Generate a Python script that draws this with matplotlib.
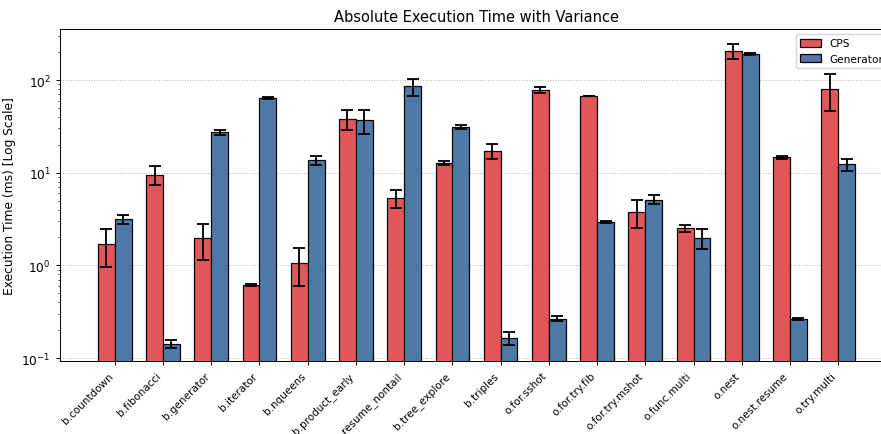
import numpy as np
import matplotlib
matplotlib.use("Agg")
import matplotlib.pyplot as plt

categories = ["b.countdown", "b.fibonacci", "b.generator", "b.iterator", "b.nqueens",
              "b.product_early", "b.resume_nontail", "b.tree_explore", "b.triples",
              "o.for.sshot", "o.for.try.fib", "o.for.try.mshot", "o.func.multi",
              "o.nest", "o.nest.resume", "o.try.multi"]
cps_mean = [1.72, 9.56, 1.98, 0.614, 1.07, 37.9, 5.30, 12.8, 17.3, 78.0, 67.1, 3.78, 2.54, 206, 14.6, 80.7]
cps_err = [0.77, 2.2, 0.83, 0.01, 0.47, 9.0, 1.17, 0.55, 3.2, 6.0, 0.5, 1.24, 0.22, 36, 0.7, 34]
gen_mean = [3.14, 0.1425, 27.2, 63.9, 13.6, 36.7, 85.5, 31.4, 0.164, 0.267, 2.94, 5.13, 1.98, 190, 0.265, 12.3]
gen_err = [0.33, 0.014, 1.8, 1.0, 1.6, 10.7, 17.8, 1.5, 0.027, 0.015, 0.05, 0.59, 0.49, 6, 0.008, 1.8]

s = 0.88
plt.rcParams.update({
    "font.size": 10 * s,
    "axes.titlesize": 12 * s,
    "axes.linewidth": 0.8 * s,
    "xtick.major.size": 3.5 * s,
    "ytick.major.size": 3.5 * s,
    "ytick.minor.size": 2 * s,
    "xtick.major.width": 0.8 * s,
    "ytick.major.width": 0.8 * s,
    "ytick.minor.width": 0.6 * s,
})

fig = plt.figure(figsize=(8.81, 4.35), dpi=100)
ax = fig.add_axes([60/881, 1-362/435, (893-60)/881, (362-30)/435])

x = np.arange(len(categories))
w = 0.35
ekw = dict(elinewidth=1.5 * s, capthick=1.5 * s, ecolor="black")
ax.bar(x - w/2, cps_mean, w, yerr=cps_err, capsize=5 * s, color="#e15759",
       edgecolor="black", linewidth=1 * s, label="CPS", error_kw=ekw)
ax.bar(x + w/2, gen_mean, w, yerr=gen_err, capsize=5 * s, color="#4e79a7",
       edgecolor="black", linewidth=1 * s, label="Generator", error_kw=ekw)
ax.set_yscale("log")
ax.set_ylim(0.093, 355)
ax.set_xticks(x)
ax.set_xticklabels(categories, rotation=45, ha="right", fontsize=7.5)
ax.set_ylabel("Execution Time (ms) [Log Scale]")
ax.set_title("Absolute Execution Time with Variance")
ax.grid(axis="y", which="major", linestyle=":", color="gray", alpha=0.6, linewidth=0.8 * s)
ax.set_axisbelow(True)
ax.legend(loc="upper right", fontsize=7.6)
fig.savefig("out.png", dpi=100)
